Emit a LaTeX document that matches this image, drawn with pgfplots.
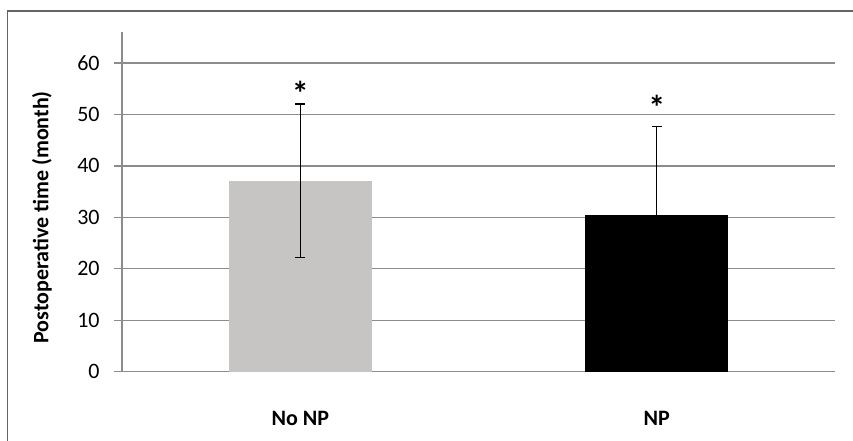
\documentclass[border=0pt]{standalone}
\usepackage{fontspec}
\setmainfont{Carlito}
\usepackage{pgfplots}
\pgfplotsset{compat=1.18}
\definecolor{gridgray}{RGB}{140,140,140}
\definecolor{framegray}{RGB}{100,100,100}
\definecolor{bargray}{RGB}{198,197,195}
\begin{document}
\fontsize{11bp}{13bp}\selectfont
\begin{tikzpicture}
\useasboundingbox (0bp,0bp) rectangle (426.5bp,220.5bp);
\draw[framegray, line width=0.9bp] (3.75bp,-3bp) -- (3.75bp,215bp) -- (430bp,215bp);
\begin{axis}[
  at={(61bp,34.65bp)}, anchor=south west,
  scale only axis, width=356.5bp, height=169.85bp,
  xmin=-0.5, xmax=1.5, ymin=0, ymax=66,
  axis x line=bottom, axis y line=left,
  axis line style={-, gridgray, line width=0.7bp},
  xtick={0,1}, xticklabels={No NP, NP},
  x tick label style={font=\bfseries, yshift=-12bp},
  xtick style={draw=none},
  ytick={0,10,...,60},
  ytick style={gridgray, line width=0.7bp},
  tick align=outside, major tick length=4bp,
  y tick label style={inner sep=0pt, xshift=-7bp},
  ymajorgrids, grid style={gridgray, line width=0.7bp},
  /pgf/number format/assume math mode=true,
  ylabel={\bfseries Postoperative time (month)},
  ylabel style={at={(axis description cs:-0.1122,0.4545)}, anchor=center},
  clip=false,
]
\addplot[ybar, bar width=0.4, bar shift=0pt, fill=bargray, draw=none,
  error bars/.cd, y dir=both, y explicit,
  error bar style={black, line width=0.6bp},
  error mark options={rotate=90, mark size=2.5bp, line width=0.6bp, black}]
  coordinates {(0,37.1) +- (0,14.9)};
\addplot[ybar, bar width=0.4, bar shift=0pt, fill=black, draw=none,
  error bars/.cd, y dir=both, y explicit,
  error bar style={black, line width=0.6bp},
  error mark options={rotate=90, mark size=2.5bp, line width=0.6bp, black}]
  coordinates {(1,30.4) +- (0,17.25)};
\addplot[draw=none, mark=none, nodes near coords={\fontsize{17bp}{17bp}\selectfont\bfseries *},
  every node near coord/.style={anchor=center, inner sep=0pt}]
  coordinates {(0,54.0) (1,51.4)};
\end{axis}
\end{tikzpicture}
\end{document}
